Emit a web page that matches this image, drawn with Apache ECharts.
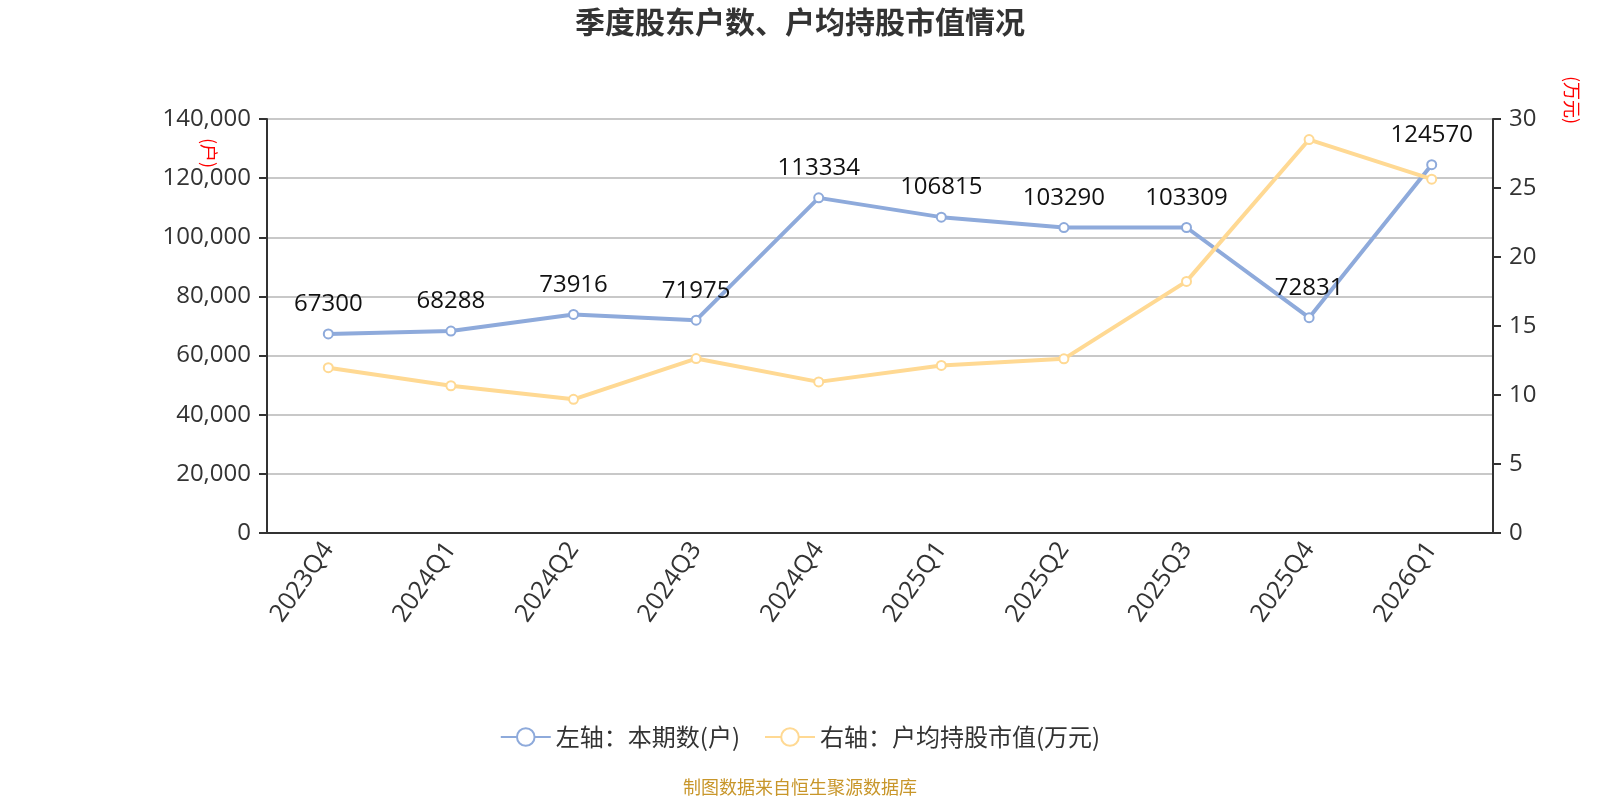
<!DOCTYPE html>
<html>
<head>
<meta charset="utf-8">
<style>
  html, body { margin: 0; padding: 0; background: #fff; }
  #chart { width: 1600px; height: 800px; }
</style>
<script src="https://cdn.jsdelivr.net/npm/echarts@6/dist/echarts.min.js"></script>
</head>
<body>
<div id="chart"></div>
<script>
// 季度股东户数 / 户均持股市值
var quarters = ['2023Q4', '2024Q1', '2024Q2', '2024Q3', '2024Q4', '2025Q1', '2025Q2', '2025Q3', '2025Q4', '2026Q1'];
var holders = [67300, 68288, 73916, 71975, 113334, 106815, 103290, 103309, 72831, 124570]; // 本期数(户)
var avgValue = [11.98, 10.67, 9.69, 12.64, 10.95, 12.14, 12.62, 18.23, 28.51, 25.64]; // 户均持股市值(万元)

var FONT = '"Open Sans", "Noto Sans CJK SC", sans-serif';
var chart = echarts.init(document.getElementById('chart'));

var option = {
    backgroundColor: '#fff',
    textStyle: { fontFamily: FONT },
    title: {
        text: '季度股东户数、户均持股市值情况',
        left: 'center',
        top: 2,
        textStyle: { fontSize: 30, fontWeight: 'bold', color: '#333', fontFamily: '"Noto Sans CJK SC", sans-serif' }
    },
    legend: {
        bottom: 46,
        left: 'center',
        itemWidth: 50,
        itemHeight: 22,
        itemGap: 24,
        textStyle: { fontSize: 24, color: '#333', fontFamily: '"Noto Sans CJK SC", sans-serif' },
        data: ['左轴：本期数(户)', '右轴：户均持股市值(万元)']
    },
    grid: { left: 267, right: 107, top: 119, bottom: 267 },
    xAxis: {
        type: 'category',
        data: quarters,
        boundaryGap: true,
        axisLine: { lineStyle: { color: '#333', width: 2 } },
        axisTick: { length: 8, lineStyle: { color: '#333', width: 2 } },
        axisLabel: { rotate: 55, fontSize: 25, color: '#333', margin: 12 }
    },
    yAxis: [
        {
            type: 'value',
            min: 0, max: 140000, interval: 20000,
            axisLine: { show: true, lineStyle: { color: '#333', width: 2 } },
            axisTick: { show: true, length: 8, lineStyle: { color: '#333', width: 2 } },
            axisLabel: {
                fontSize: 24, color: '#333', margin: 16,
                formatter: function (v) { return v.toLocaleString('en-US'); }
            },
            splitLine: { lineStyle: { color: '#c8c8c8', width: 2 } }
        },
        {
            type: 'value',
            min: 0, max: 30, interval: 5,
            axisLine: { show: true, lineStyle: { color: '#333', width: 2 } },
            axisTick: { show: true, length: 8, lineStyle: { color: '#333', width: 2 } },
            axisLabel: { fontSize: 24, color: '#333', margin: 16 },
            splitLine: { show: false }
        }
    ],
    graphic: [
        {
            type: 'text', left: 200, top: 138, rotation: -Math.PI / 2,
            style: { text: '(户)', fill: '#ff0000', fontSize: 18, fontFamily: '"Noto Sans CJK SC", sans-serif' }
        },
        {
            type: 'text', left: 1563, top: 76, rotation: -Math.PI / 2,
            style: { text: '(万元)', fill: '#ff0000', fontSize: 18, fontFamily: '"Noto Sans CJK SC", sans-serif' }
        },
        {
            type: 'text', left: 'center', bottom: 4,
            style: { text: '制图数据来自恒生聚源数据库', fill: '#c8962a', fontSize: 18, fontFamily: '"Noto Sans CJK SC", sans-serif' }
        }
    ],
    series: [
        {
            name: '左轴：本期数(户)',
            type: 'line',
            yAxisIndex: 0,
            data: holders,
            symbol: 'emptyCircle',
            symbolSize: 9,
            color: '#8eaadb',
            lineStyle: { width: 4, color: '#8eaadb' },
            itemStyle: { color: '#8eaadb', borderWidth: 2 },
            label: { show: true, position: 'top', fontSize: 24, color: '#111', distance: 12 }
        },
        {
            name: '右轴：户均持股市值(万元)',
            type: 'line',
            yAxisIndex: 1,
            data: avgValue,
            symbol: 'emptyCircle',
            symbolSize: 9,
            color: '#ffd993',
            lineStyle: { width: 4, color: '#ffd993' },
            itemStyle: { color: '#ffd993', borderWidth: 2 },
            label: { show: false }
        }
    ]
};

chart.setOption(option);
</script>
</body>
</html>
